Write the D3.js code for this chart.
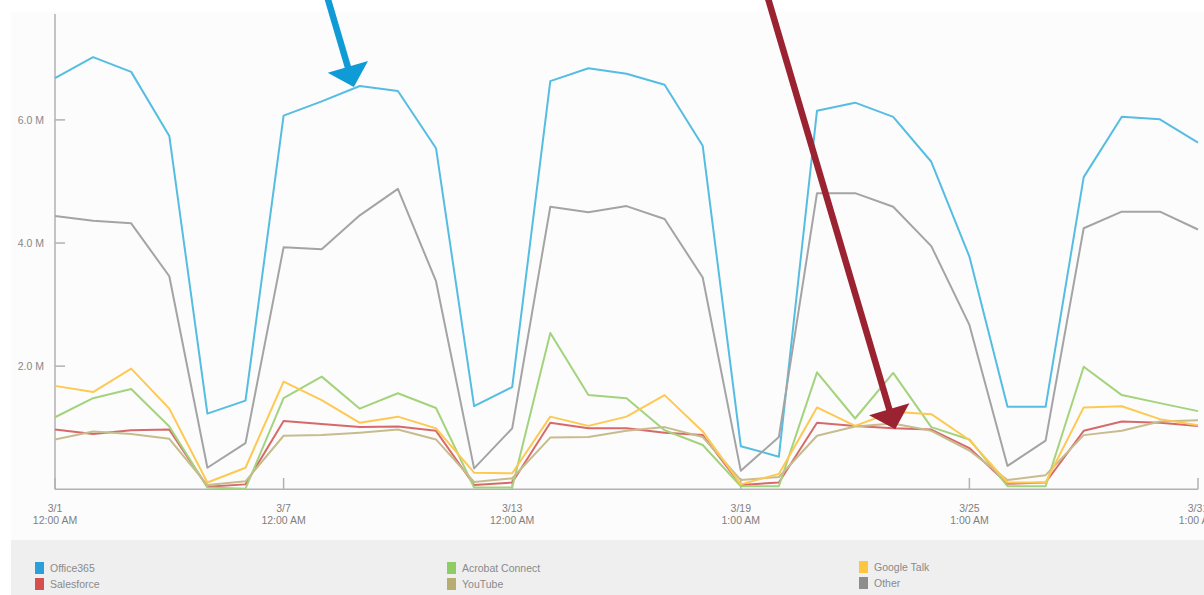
<!DOCTYPE html>
<html>
<head>
<meta charset="utf-8">
<script src="https://cdn.jsdelivr.net/npm/d3@7"></script>
<style>
  html, body { margin: 0; padding: 0; background: #fff; overflow: hidden; }
  svg { display: block; font-family: "Liberation Sans", Arial, sans-serif; }
</style>
</head>
<body>
<svg id="chart" width="1204" height="595"></svg>
<script>
// ── data (millions) ──
const days = d3.range(1, 32); // 3/1 .. 3/31

const office365 = [6.68, 7.02, 6.78, 5.74, 1.23, 1.44, 6.07, 6.30, 6.55, 6.47, 5.54, 1.35, 1.66, 6.63, 6.84, 6.75,
  6.57, 5.58, 0.70, 0.53, 6.15, 6.28, 6.05, 5.32, 3.78, 1.34, 1.34, 5.07, 6.05, 6.01, 5.63];
const salesforce = [0.97, 0.90, 0.96, 0.97, 0.04, 0.08, 1.11, 1.06, 1.01, 1.02, 0.95, 0.07, 0.11, 1.08, 0.99, 0.99,
  0.92, 0.88, 0.07, 0.11, 1.08, 1.03, 0.99, 0.97, 0.67, 0.09, 0.11, 0.95, 1.10, 1.08, 1.03];
const acrobat = [1.17, 1.48, 1.63, 1.02, 0.03, 0.01, 1.48, 1.83, 1.31, 1.56, 1.32, 0.03, 0.03, 2.54, 1.53, 1.48,
  0.96, 0.72, 0.05, 0.05, 1.90, 1.15, 1.89, 1.01, 0.81, 0.05, 0.05, 1.99, 1.53, 1.40, 1.27];
const youtube = [0.81, 0.94, 0.90, 0.82, 0.07, 0.13, 0.87, 0.88, 0.92, 0.97, 0.81, 0.12, 0.18, 0.84, 0.85, 0.95,
  1.01, 0.85, 0.15, 0.20, 0.87, 1.02, 1.07, 0.95, 0.63, 0.15, 0.23, 0.88, 0.95, 1.10, 1.12];
const googleTalk = [1.68, 1.58, 1.96, 1.31, 0.11, 0.35, 1.75, 1.45, 1.08, 1.18, 0.99, 0.27, 0.26, 1.18, 1.03, 1.18,
  1.53, 0.94, 0.08, 0.25, 1.33, 1.03, 1.26, 1.22, 0.80, 0.11, 0.11, 1.33, 1.35, 1.14, 1.04];
const other = [4.44, 4.36, 4.32, 3.46, 0.35, 0.75, 3.93, 3.90, 4.45, 4.88, 3.38, 0.34, 0.99, 4.59, 4.50, 4.60,
  4.39, 3.44, 0.30, 0.85, 4.81, 4.81, 4.59, 3.95, 2.67, 0.38, 0.79, 4.24, 4.51, 4.51, 4.22];

const yTicks = [2, 4, 6];
const tickDays  = [1, 7, 13, 19, 25, 31];
const tickDates = ['3/1', '3/7', '3/13', '3/19', '3/25', '3/31'];
const tickTimes = ['12:00 AM', '12:00 AM', '12:00 AM', '1:00 AM', '1:00 AM', '1:00 AM'];

const seriesNames = ['Office365', 'Salesforce', 'Acrobat Connect', 'YouTube', 'Google Talk', 'Other'];
const seriesData  = [office365, salesforce, acrobat, youtube, googleTalk, other];

// line colour / legend swatch colour
const LINE = {
  'Office365': '#56bde2', 'Salesforce': '#d8696b', 'Acrobat Connect': '#a3d37c',
  'YouTube': '#c6bc8e', 'Google Talk': '#fdc952', 'Other': '#a4a4a4',
};
const SWATCH = {
  'Office365': '#2b9fd8', 'Salesforce': '#d6504f', 'Acrobat Connect': '#8fcc66',
  'YouTube': '#b8ad70', 'Google Talk': '#fec640', 'Other': '#8d8d8d',
};

// ── layout ──
const svg = d3.select('#chart');
const W = 1204, H = 595;
const x = d3.scaleLinear([1, 31], [55, 1198]);
const y = d3.scaleLinear([0, 7.72], [489.3, 14]);

svg.append('rect').attr('width', W).attr('height', H).attr('fill', '#fff');
svg.append('rect').attr('x', 11).attr('y', 12).attr('width', W - 11).attr('height', 528).attr('fill', '#fcfcfc');
svg.append('rect').attr('x', 11).attr('y', 540).attr('width', W - 11).attr('height', 55).attr('fill', '#efefef');

const axisCol = '#b2b2b2';

// y axis
svg.append('line').attr('x1', 55).attr('x2', 55).attr('y1', 14).attr('y2', 489.3)
  .attr('stroke', axisCol).attr('stroke-width', 1.5);
yTicks.forEach(v => {
  svg.append('line').attr('x1', 55).attr('x2', 65).attr('y1', y(v)).attr('y2', y(v))
    .attr('stroke', axisCol).attr('stroke-width', 1.5);
  svg.append('text').attr('x', 44).attr('y', y(v) + 4).attr('text-anchor', 'end')
    .attr('font-size', 10.5).attr('fill', '#888').text(v.toFixed(1) + ' M');
});

// x axis
svg.append('line').attr('x1', 55).attr('x2', 1198).attr('y1', 489.3).attr('y2', 489.3)
  .attr('stroke', axisCol).attr('stroke-width', 1.5);
tickDays.forEach((d, i) => {
  svg.append('line').attr('x1', x(d)).attr('x2', x(d)).attr('y1', 489.3).attr('y2', 478)
    .attr('stroke', axisCol).attr('stroke-width', 1.5);
  const t = svg.append('text').attr('x', x(d)).attr('text-anchor', 'middle')
    .attr('font-size', 10.5).attr('fill', '#808080');
  t.append('tspan').attr('x', x(d)).attr('y', 512).text(tickDates[i]);
  t.append('tspan').attr('x', x(d)).attr('y', 523.5).text(tickTimes[i]);
});

// lines
const line = d3.line().x((v, i) => x(days[i])).y(v => y(v));
seriesNames.forEach((name, k) => {
  svg.append('path').datum(seriesData[k])
    .attr('d', line)
    .attr('fill', 'none')
    .attr('stroke', LINE[name])
    .attr('stroke-width', 2)
    .attr('stroke-linejoin', 'round');
});

// annotation arrows, anchored on data points
function arrow(tx, ty, back, col) {
  const ux = 0.283, uy = 0.959;          // direction of travel
  const px = uy, py = -ux;                // perpendicular
  const headLen = 21, headW = 21;
  const bx = tx - ux * headLen, by = ty - uy * headLen;
  svg.append('line')
    .attr('x1', tx - ux * back).attr('y1', ty - uy * back)
    .attr('x2', bx + ux * 2).attr('y2', by + uy * 2)
    .attr('stroke', col).attr('stroke-width', 6.5);
  svg.append('path')
    .attr('d', `M${tx},${ty} L${bx + px * headW},${by + py * headW} L${bx - px * headW},${by - py * headW} Z`)
    .attr('fill', col);
}
arrow(x(9) - 6, y(office365[8]) + 1, 100, '#0f9bd6');
arrow(x(23) + 2, y(salesforce[22]) + 1, 460, '#9a2231');

// legend
const legCols = [[35, 50], [447, 462], [859, 874]];
const legRows = [562, 578];
seriesNames.forEach((name, k) => {
  const col = Math.floor(k / 2), row = k % 2;
  const lx = legCols[col][0], ly = legRows[row] - (col === 2 ? 1 : 0);
  svg.append('rect').attr('x', lx).attr('y', ly).attr('width', 9).attr('height', 12)
    .attr('fill', SWATCH[name]);
  svg.append('text').attr('x', legCols[col][1]).attr('y', ly + 10)
    .attr('font-size', 10.5).attr('fill', '#8a8a8a').text(name);
});
</script>
</body>
</html>
